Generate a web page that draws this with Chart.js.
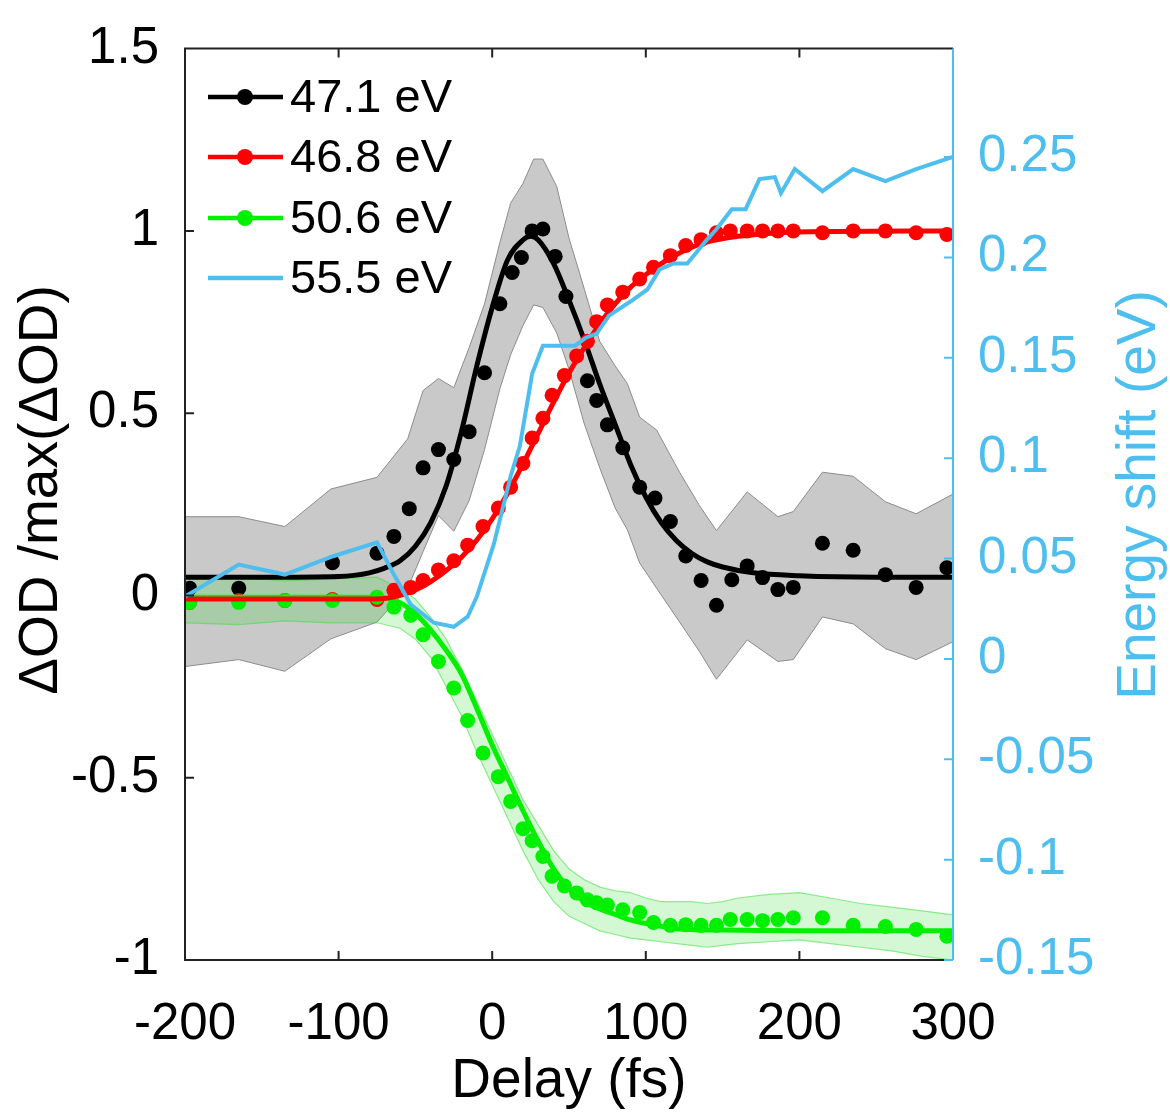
<!DOCTYPE html>
<html>
<head>
<meta charset="utf-8">
<script src="https://cdn.jsdelivr.net/npm/chart.js@4.4.1/dist/chart.umd.min.js"></script>
<style>
  html, body { margin: 0; padding: 0; background: #fff; }
  #wrap { width: 1170px; height: 1112px; }
</style>
</head>
<body>
<div id="wrap"><canvas id="chart" width="1170" height="1112"></canvas></div>
<script>
// delay axis (fs) and tick labels
const xTicks = [-200, -100, 0, 100, 200, 300];
const yTicks = [-1, -0.5, 0, 0.5, 1, 1.5];
const y1Ticks = [-0.15, -0.1, -0.05, 0, 0.05, 0.1, 0.15, 0.2, 0.25];

// 47.1 eV measured points
const blackT = [-197, -165, -104, -75, -64, -54, -45, -35, -25, -15, -5, 5, 13, 19, 26, 33, 41, 48, 62, 68, 75, 85, 96, 106, 116, 126, 136, 146, 156, 166, 176, 186, 196, 215, 235, 256, 276, 296];
const blackV = [0.02, 0.02, 0.09, 0.116, 0.162, 0.238, 0.35, 0.40, 0.373, 0.449, 0.611, 0.80, 0.886, 0.927, 1.0, 1.005, 0.93, 0.82, 0.589, 0.535, 0.468, 0.405, 0.297, 0.267, 0.203, 0.108, 0.041, -0.027, 0.043, 0.081, 0.049, 0.016, 0.022, 0.143, 0.124, 0.057, 0.022, 0.076];
// 47.1 eV fit
const blackFitT = [-200, -150, -100, -90, -80, -70, -60, -50, -40, -30, -20, -10, 0, 10, 20, 25, 30, 40, 50, 60, 70, 80, 90, 100, 110, 120, 130, 140, 150, 170, 200, 250, 300];
const blackFitV = [0.05, 0.05, 0.052, 0.055, 0.062, 0.075, 0.095, 0.135, 0.2, 0.3, 0.45, 0.63, 0.79, 0.92, 0.975, 0.985, 0.975, 0.91, 0.81, 0.7, 0.58, 0.47, 0.36, 0.27, 0.2, 0.15, 0.115, 0.092, 0.078, 0.062, 0.054, 0.05, 0.05];
// 47.1 eV error band
const grayT = [-200, -165, -135, -105, -75, -55, -45, -35, -25, -15, -5, 5, 12, 20, 27, 33, 42, 50, 60, 70, 80, 88, 96, 107, 122, 135, 146, 166, 186, 196, 215, 235, 256, 276, 300];
const grayUpper = [0.216, 0.216, 0.189, 0.292, 0.324, 0.43, 0.562, 0.595, 0.57, 0.68, 0.8, 0.968, 1.076, 1.13, 1.197, 1.197, 1.122, 0.98, 0.84, 0.697, 0.63, 0.581, 0.489, 0.454, 0.338, 0.246, 0.178, 0.284, 0.216, 0.23, 0.338, 0.327, 0.257, 0.224, 0.278];
const grayLower = [-0.195, -0.176, -0.208, -0.119, -0.073, 0.02, 0.12, 0.219, 0.176, 0.26, 0.4, 0.567, 0.66, 0.74, 0.797, 0.79, 0.72, 0.62, 0.47, 0.35, 0.24, 0.18, 0.089, 0.02, -0.073, -0.154, -0.23, -0.122, -0.181, -0.176, -0.059, -0.078, -0.146, -0.176, -0.127];

// 46.8 eV and 50.6 eV measured points share the delay grid
const pointT = [-197, -165, -135, -104, -75, -64, -53, -45, -35, -25, -16, -6, 4, 12, 20, 26, 33, 39, 47, 55, 62, 68, 75, 85, 96, 105, 116, 126, 136, 146, 155, 166, 176, 186, 196, 215, 235, 256, 276, 296];
const redV = [-0.019, -0.014, -0.014, -0.011, -0.011, 0.014, 0.022, 0.041, 0.07, 0.095, 0.138, 0.189, 0.24, 0.297, 0.362, 0.432, 0.486, 0.549, 0.603, 0.657, 0.697, 0.751, 0.797, 0.832, 0.868, 0.9, 0.932, 0.96, 0.976, 0.995, 1.0, 1.0, 1.0, 1.0, 1.0, 0.995, 1.0, 1.0, 0.995, 0.99];
const greenV = [-0.019, -0.019, -0.014, -0.014, -0.005, -0.032, -0.054, -0.108, -0.181, -0.254, -0.343, -0.432, -0.497, -0.565, -0.64, -0.673, -0.716, -0.77, -0.797, -0.816, -0.835, -0.843, -0.849, -0.862, -0.87, -0.897, -0.905, -0.903, -0.905, -0.905, -0.889, -0.889, -0.892, -0.889, -0.884, -0.884, -0.905, -0.908, -0.916, -0.935];

// fits
const redFitT = [-200, -75, -60, -50, -40, -30, -20, -10, 0, 10, 20, 30, 40, 50, 60, 70, 80, 90, 100, 110, 120, 130, 140, 160, 180, 200, 300];
const redFitV = [-0.01, -0.01, 0.0, 0.015, 0.038, 0.068, 0.105, 0.152, 0.21, 0.28, 0.36, 0.445, 0.53, 0.61, 0.68, 0.745, 0.8, 0.845, 0.88, 0.91, 0.935, 0.955, 0.97, 0.985, 0.993, 0.997, 1.0];
const greenFitT = [-200, -75, -60, -50, -40, -30, -20, -10, 0, 10, 20, 30, 40, 50, 60, 70, 80, 90, 100, 120, 150, 200, 300];
const greenFitV = [-0.005, -0.005, -0.02, -0.05, -0.095, -0.15, -0.215, -0.31, -0.41, -0.5, -0.59, -0.675, -0.75, -0.805, -0.84, -0.86, -0.875, -0.89, -0.9, -0.914, -0.918, -0.92, -0.92];

// 50.6 eV error band
const greenBandT = [-200, -165, -135, -105, -75, -60, -50, -40, -30, -20, -10, 0, 10, 20, 30, 40, 50, 60, 70, 80, 90, 100, 110, 120, 130, 140, 150, 160, 180, 200, 220, 240, 260, 280, 300];
const greenUpper = [0.05, 0.05, 0.04, 0.045, 0.05, 0.02, -0.01, -0.06, -0.12, -0.2, -0.29, -0.38, -0.47, -0.56, -0.63, -0.7, -0.75, -0.78, -0.8, -0.81, -0.815, -0.83, -0.84, -0.84, -0.84, -0.845, -0.84, -0.83, -0.82, -0.815, -0.83, -0.845, -0.855, -0.865, -0.876];
const greenLower = [-0.075, -0.08, -0.07, -0.075, -0.075, -0.09, -0.12, -0.17, -0.25, -0.33, -0.43, -0.52, -0.61, -0.7, -0.78, -0.84, -0.88, -0.9, -0.92, -0.93, -0.94, -0.945, -0.95, -0.955, -0.96, -0.965, -0.96, -0.955, -0.95, -0.945, -0.955, -0.965, -0.975, -0.99, -1.0];

// 55.5 eV energy shift (right axis, eV)
const blueT = [-200, -165, -135, -104, -75, -64, -53, -38, -25, -16, -10, 1, 12, 18, 26, 33, 54, 61, 68, 76, 90, 101, 109, 118, 127, 140, 146, 156, 165, 174, 184, 188, 197, 215, 235, 256, 276, 300];
const blueV = [0.031, 0.047, 0.042, 0.051, 0.058, 0.042, 0.027, 0.018, 0.016, 0.021, 0.031, 0.057, 0.091, 0.106, 0.142, 0.156, 0.156, 0.16, 0.162, 0.171, 0.178, 0.184, 0.194, 0.197, 0.197, 0.209, 0.214, 0.224, 0.224, 0.239, 0.24, 0.232, 0.244, 0.233, 0.244, 0.238, 0.244, 0.25];

const legendLabels = ['47.1 eV', '46.8 eV', '50.6 eV', '55.5 eV'];
const xTitle = 'Delay (fs)';
const yTitle = 'ΔOD /max(ΔOD)';
const y1Title = 'Energy shift (eV)';

const BLUE = '#4dbeee';
const GREEN = '#00f000';
const FONT = '"Liberation Sans", Arial, sans-serif';

const pts = (t, v) => t.map((x, i) => ({ x: x, y: v[i] }));

function fmt(v) {
    return String(Number(v.toFixed(2)));
}

// axis lines, inward ticks, titles and legend, drawn like the original figure
const framePlugin = {
    id: 'frame',
    afterDraw(chart) {
        const ctx = chart.ctx;
        const a = chart.chartArea;
        const sx = chart.scales.x, sy = chart.scales.y, sy1 = chart.scales.y1;
        const tl = 9;
        ctx.save();

        ctx.strokeStyle = '#222';
        ctx.lineWidth = 2;
        ctx.beginPath();
        ctx.moveTo(a.right, a.top); ctx.lineTo(a.left, a.top);
        ctx.lineTo(a.left, a.bottom); ctx.lineTo(a.right, a.bottom);
        xTicks.forEach(v => {
            const px = sx.getPixelForValue(v);
            ctx.moveTo(px, a.bottom); ctx.lineTo(px, a.bottom - tl);
            ctx.moveTo(px, a.top); ctx.lineTo(px, a.top + tl);
        });
        yTicks.forEach(v => {
            const py = sy.getPixelForValue(v);
            ctx.moveTo(a.left, py); ctx.lineTo(a.left + tl, py);
        });
        ctx.stroke();

        ctx.strokeStyle = BLUE;
        ctx.beginPath();
        ctx.moveTo(a.right, a.top); ctx.lineTo(a.right, a.bottom);
        y1Ticks.forEach(v => {
            const py = sy1.getPixelForValue(v);
            ctx.moveTo(a.right, py); ctx.lineTo(a.right - tl, py);
        });
        ctx.stroke();

        // titles
        ctx.font = '55px ' + FONT;
        ctx.fillStyle = '#000';
        ctx.textAlign = 'center';
        ctx.textBaseline = 'alphabetic';
        ctx.fillText(xTitle, (a.left + a.right) / 2, 1097);

        ctx.textBaseline = 'middle';
        ctx.save();
        ctx.translate(42, 490);
        ctx.rotate(-Math.PI / 2);
        ctx.fillText(yTitle, 0, 0);
        ctx.restore();

        ctx.fillStyle = BLUE;
        ctx.save();
        ctx.translate(1140, 495);
        ctx.rotate(-Math.PI / 2);
        ctx.fillText(y1Title, 0, 0);
        ctx.restore();

        // legend
        const colors = ['#000000', '#ff0000', GREEN, BLUE];
        const rowY = [97, 157, 218, 278];
        ctx.font = '47px ' + FONT;
        ctx.textAlign = 'left';
        legendLabels.forEach((lab, i) => {
            ctx.strokeStyle = colors[i];
            ctx.fillStyle = colors[i];
            ctx.lineWidth = 4.5;
            ctx.beginPath();
            ctx.moveTo(208, rowY[i]); ctx.lineTo(283, rowY[i]);
            ctx.stroke();
            if (i < 3) {
                ctx.beginPath();
                ctx.arc(245, rowY[i], 8, 0, Math.PI * 2);
                ctx.fill();
            }
            ctx.fillStyle = '#000';
            ctx.fillText(lab, 290, rowY[i] + 2);
        });
        ctx.restore();
    }
};

const lineDs = (label, data, color, width, order, extra) => Object.assign({
    label: label,
    data: data,
    borderColor: color,
    backgroundColor: color,
    borderWidth: width,
    pointRadius: 0,
    tension: 0,
    fill: false,
    order: order,
    yAxisID: 'y'
}, extra || {});

const dotDs = (label, data, color, order) => ({
    label: label,
    data: data,
    showLine: false,
    pointRadius: 7.5,
    pointBorderWidth: 0,
    pointBackgroundColor: color,
    borderColor: color,
    backgroundColor: color,
    order: order,
    yAxisID: 'y'
});

const datasets = [
    // 0,1: gray band
    lineDs('gray upper', pts(grayT, grayUpper), '#8c8c8c', 1, 20, { fill: 1, backgroundColor: '#c9c9c9' }),
    lineDs('gray lower', pts(grayT, grayLower), '#8c8c8c', 1, 19),
    // 2,3: green band
    lineDs('green upper', pts(greenBandT, greenUpper), 'rgba(60,220,60,0.55)', 1.2, 18, { fill: 3, backgroundColor: 'rgba(40,220,40,0.2)' }),
    lineDs('green lower', pts(greenBandT, greenLower), 'rgba(60,220,60,0.55)', 1.2, 17),
    lineDs('47.1 fit', pts(blackFitT, blackFitV), '#000', 5, 10, { cubicInterpolationMode: 'monotone' }),
    dotDs('47.1 eV', pts(blackT, blackV), '#000', 9),
    dotDs('46.8 eV', pts(pointT, redV), '#ff0000', 8),
    dotDs('50.6 eV', pts(pointT, greenV), GREEN, 7),
    lineDs('50.6 fit', pts(greenFitT, greenFitV), GREEN, 5, 6, { cubicInterpolationMode: 'monotone' }),
    lineDs('46.8 fit', pts(redFitT, redFitV), '#ff0000', 5, 5, { cubicInterpolationMode: 'monotone' }),
    lineDs('55.5 eV', pts(blueT, blueV), BLUE, 4, 1, { yAxisID: 'y1' })
];

new Chart(document.getElementById('chart'), {
    type: 'line',
    data: { datasets: datasets },
    options: {
        responsive: false,
        animation: false,
        events: [],
        layout: { padding: { top: 33, left: 0, right: 0, bottom: 0 } },
        plugins: {
            legend: { display: false },
            tooltip: { enabled: false }
        },
        scales: {
            x: {
                type: 'linear',
                min: -200,
                max: 300,
                grid: { display: false },
                border: { display: false },
                afterBuildTicks: s => { s.ticks = xTicks.map(v => ({ value: v })); },
                afterFit: s => { s.height = 152; },
                ticks: {
                    color: '#000',
                    padding: 26,
                    maxRotation: 0,
                    font: { family: FONT, size: 51 },
                    callback: v => fmt(v)
                }
            },
            y: {
                type: 'linear',
                position: 'left',
                min: -1,
                max: 1.5,
                grid: { display: false },
                border: { display: false },
                afterBuildTicks: s => { s.ticks = yTicks.map(v => ({ value: v })); },
                afterFit: s => { s.width = 185; },
                ticks: {
                    color: '#000',
                    padding: 18,
                    font: { family: FONT, size: 51 },
                    callback: v => fmt(v)
                }
            },
            y1: {
                type: 'linear',
                position: 'right',
                min: -0.15,
                max: 0.304,
                grid: { display: false },
                border: { display: false },
                afterBuildTicks: s => { s.ticks = y1Ticks.map(v => ({ value: v })); },
                afterFit: s => { s.width = 217; },
                ticks: {
                    color: BLUE,
                    padding: 17,
                    font: { family: FONT, size: 51 },
                    callback: v => fmt(v)
                }
            }
        }
    },
    plugins: [framePlugin]
});
</script>
</body>
</html>
